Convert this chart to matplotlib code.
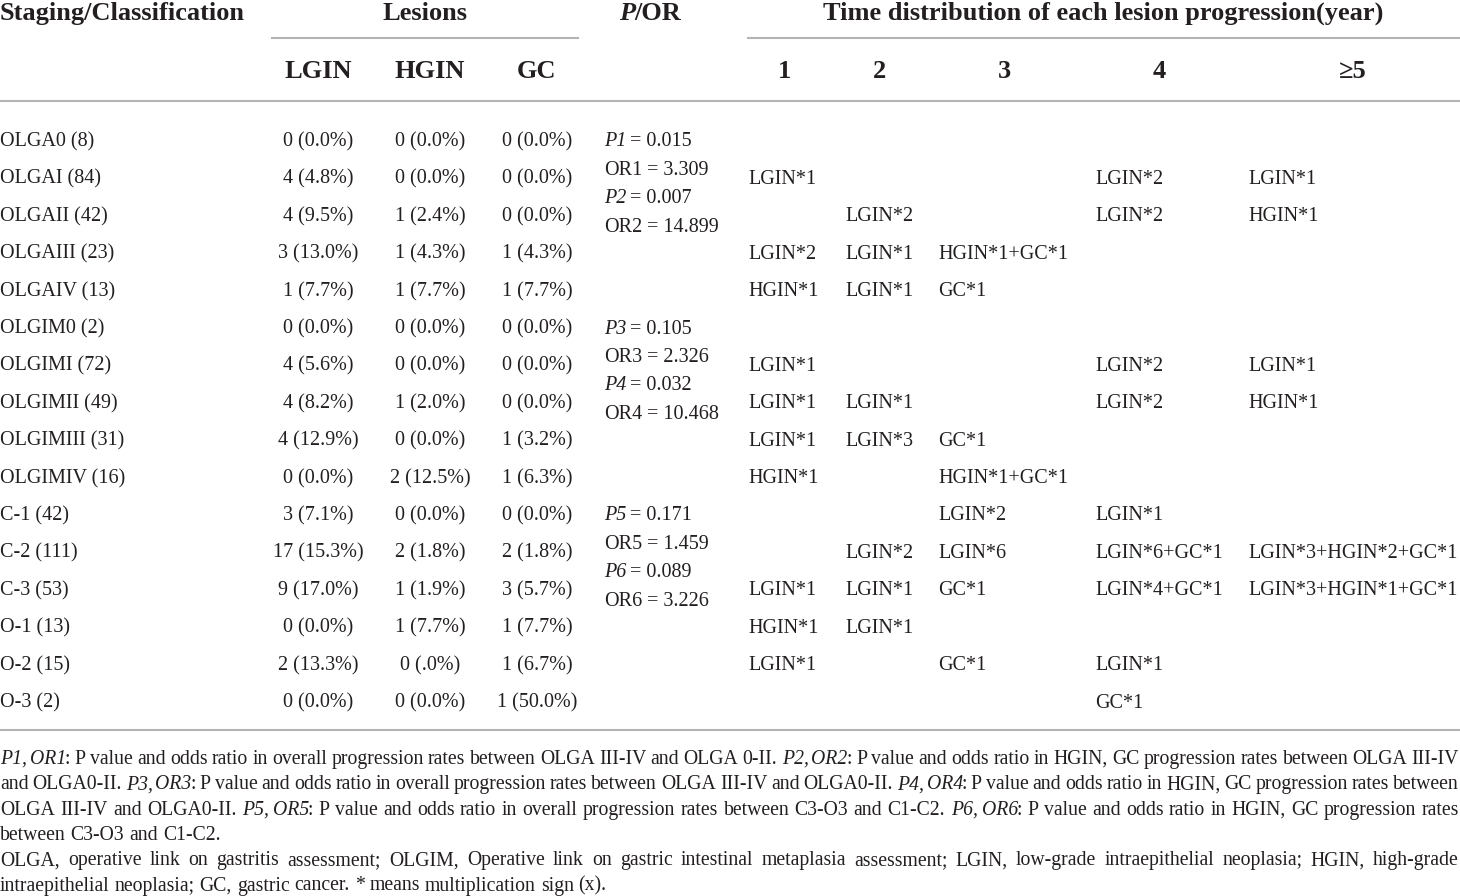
import re
import matplotlib
matplotlib.use("Agg")
import matplotlib.pyplot as plt

plt.rcParams['font.family'] = ['Liberation Serif', 'DejaVu Serif']

# table data
stages = ["OLGA0 (8)", "OLGAI (84)", "OLGAII (42)", "OLGAIII (23)", "OLGAIV (13)",
          "OLGIM0 (2)", "OLGIMI (72)", "OLGIMII (49)", "OLGIMIII (31)", "OLGIMIV (16)",
          "C-1 (42)", "C-2 (111)", "C-3 (53)", "O-1 (13)", "O-2 (15)", "O-3 (2)"]
lgin = ["0 (0.0%)", "4 (4.8%)", "4 (9.5%)", "3 (13.0%)", "1 (7.7%)",
        "0 (0.0%)", "4 (5.6%)", "4 (8.2%)", "4 (12.9%)", "0 (0.0%)",
        "3 (7.1%)", "17 (15.3%)", "9 (17.0%)", "0 (0.0%)", "2 (13.3%)", "0 (0.0%)"]
hgin = ["0 (0.0%)", "0 (0.0%)", "1 (2.4%)", "1 (4.3%)", "1 (7.7%)",
        "0 (0.0%)", "0 (0.0%)", "1 (2.0%)", "0 (0.0%)", "2 (12.5%)",
        "0 (0.0%)", "2 (1.8%)", "1 (1.9%)", "1 (7.7%)", "0 (.0%)", "0 (0.0%)"]
gc = ["0 (0.0%)", "0 (0.0%)", "0 (0.0%)", "1 (4.3%)", "1 (7.7%)",
      "0 (0.0%)", "0 (0.0%)", "0 (0.0%)", "1 (3.2%)", "1 (6.3%)",
      "0 (0.0%)", "2 (1.8%)", "3 (5.7%)", "1 (7.7%)", "1 (6.7%)", "1 (50.0%)"]
year1 = ["", "LGIN*1", "", "LGIN*2", "HGIN*1", "", "LGIN*1", "LGIN*1", "LGIN*1", "HGIN*1",
         "", "", "LGIN*1", "HGIN*1", "LGIN*1", ""]
year2 = ["", "", "LGIN*2", "LGIN*1", "LGIN*1", "", "", "LGIN*1", "LGIN*3", "",
         "", "LGIN*2", "LGIN*1", "LGIN*1", "", ""]
year3 = ["", "", "", "HGIN*1+GC*1", "GC*1", "", "", "", "GC*1", "HGIN*1+GC*1",
         "LGIN*2", "LGIN*6", "GC*1", "", "GC*1", ""]
year4 = ["", "LGIN*2", "LGIN*2", "", "", "", "LGIN*2", "LGIN*2", "", "",
         "LGIN*1", "LGIN*6+GC*1", "LGIN*4+GC*1", "", "LGIN*1", "GC*1"]
year5 = ["", "LGIN*1", "HGIN*1", "", "", "", "LGIN*1", "HGIN*1", "", "",
         "", "LGIN*3+HGIN*2+GC*1", "LGIN*3+HGIN*1+GC*1", "", "", ""]
year_headers = ["1", "2", "3", "4", "\u22655"]

# P / OR groups: (first row, [(italic label, value), ...])
p_or = [
    (0, [("P1", " = 0.015"), ("OR1", " = 3.309"), ("P2", " = 0.007"), ("OR2", " = 14.899")]),
    (5, [("P3", " = 0.105"), ("OR3", " = 2.326"), ("P4", " = 0.032"), ("OR4", " = 10.468")]),
    (10, [("P5", " = 0.171"), ("OR5", " = 1.459"), ("P6", " = 0.089"), ("OR6", " = 3.226")]),
]

footnotes = [
    ("{P1, OR1}: P value and odds ratio in overall progression rates between OLGA III-IV and OLGA 0-II. "
     "{P2, OR2}: P value and odds ratio in HGIN, GC progression rates between OLGA III-IV", True),
    ("and OLGA0-II. {P3, OR3}: P value and odds ratio in overall progression rates between OLGA III-IV "
     "and OLGA0-II. {P4, OR4}: P value and odds ratio in HGIN, GC progression rates between", True),
    ("OLGA III-IV and OLGA0-II. {P5, OR5}: P value and odds ratio in overall progression rates between "
     "C3-O3 and C1-C2. {P6, OR6}: P value and odds ratio in HGIN, GC progression rates", True),
    ("between C3-O3 and C1-C2.", False),
    ("OLGA, operative link on gastritis assessment; OLGIM, Operative link on gastric intestinal "
     "metaplasia assessment; LGIN, low-grade intraepithelial neoplasia; HGIN, high-grade", True),
    ("intraepithelial neoplasia; GC, gastric cancer. * means multiplication sign (x).", False),
]

W, H = 1460, 896
INK = "#231f20"
RULE = "#b4b4b4"
FS = 14.5     # body
HFS = 19      # header
NFS = 14.2    # footnotes

fig = plt.figure(figsize=(W / 100, H / 100), dpi=100)
ax = fig.add_axes([0, 0, 1, 1])
ax.set_xlim(0, W)
ax.set_ylim(H, 0)
ax.axis("off")
renderer = fig.canvas.get_renderer()


def width_of(t):
    return t.get_window_extent(renderer=renderer).width


def txt(x, y, s, size=FS, ha="left", **kw):
    return ax.text(x, y, s, fontsize=size, color=INK, va="baseline", ha=ha, **kw)


def run_widths(runs, size):
    out = []
    for text, italic in runs:
        t = txt(0, 0, text, size=size, style="italic" if italic else "normal")
        w = width_of(t)
        t.remove()
        # italic boxes carry a little slant overhang
        out.append(w - (1.5 if italic else 0))
    return out


def draw_runs(x, y, runs, size=FS):
    for (text, italic), w in zip(runs, run_widths(runs, size)):
        txt(x, y, text, size=size, style="italic" if italic else "normal")
        x += w
    return x


def parse_words(line):
    runs = []
    for part in re.split(r"(\{[^}]*\})", line):
        if part.startswith("{"):
            runs.append((part[1:-1], True))
        elif part:
            runs.append((part, False))
    words = [[]]
    for text, italic in runs:
        for i, piece in enumerate(text.split(" ")):
            if i > 0:
                words.append([])
            if piece:
                words[-1].append((piece, italic))
    return [w for w in words if w]


# header
hb1, hb2 = 20, 78
txt(0, hb1, "Staging/Classification", size=HFS, weight="bold")
txt(425, hb1, "Lesions", size=HFS, weight="bold", ha="center")
t1 = txt(0, hb1, "P", size=HFS, weight="bold", style="italic")
t2 = txt(0, hb1, "/OR", size=HFS, weight="bold")
pw = width_of(t1) + width_of(t2)
t1.set_x(650 - pw / 2)
t2.set_x(650 - pw / 2 + width_of(t1))
txt(1103, hb1, "Time distribution of each lesion progression(year)", size=HFS,
    weight="bold", ha="center")

lesion_x = [318, 430, 537]
for name, cx in zip(["LGIN", "HGIN", "GC"], lesion_x):
    txt(cx, hb2, name, size=HFS, weight="bold", ha="center")
year_center = [784, 879, 1004, 1159, 1353]
for name, cx in zip(year_headers, year_center):
    txt(cx, hb2, name, size=HFS, weight="bold", ha="center")

ax.plot([272, 578], [38, 38], color=RULE, lw=1.5)
ax.plot([748, W], [38, 38], color=RULE, lw=1.5)
ax.plot([0, W], [101, 101], color=RULE, lw=1.5)
ax.plot([0, W], [730, 730], color=RULE, lw=1.5)

# body
row0, step, base = 139, 37.4, 7.5
year_left = [748, 845, 938, 1095, 1248]
for i, stage in enumerate(stages):
    y = row0 + i * step + base
    txt(0, y, stage)
    for col, cx in zip([lgin, hgin, gc], lesion_x):
        txt(cx, y, col[i], ha="center")
    for col, lx in zip([year1, year2, year3, year4, year5], year_left):
        if col[i]:
            txt(lx, y, col[i])

for first, items in p_or:
    for k, (lab, val) in enumerate(items):
        y = row0 + first * step + k * 28.4 + base
        draw_runs(604, y, [(lab, lab.startswith("P")), (val, False)])

# footnotes
fb0, fstep = 764, 25.3
for j, (line, justify) in enumerate(footnotes):
    y = fb0 + j * fstep
    words = parse_words(line)
    space = 0.25 * NFS * 100 / 72
    if justify:
        total = sum(sum(run_widths(w, NFS)) for w in words)
        space = (W - 1 - total) / (len(words) - 1)
    x = 0
    for w in words:
        x = draw_runs(x, y, w, size=NFS) + space

fig.savefig("out.png", dpi=100)
